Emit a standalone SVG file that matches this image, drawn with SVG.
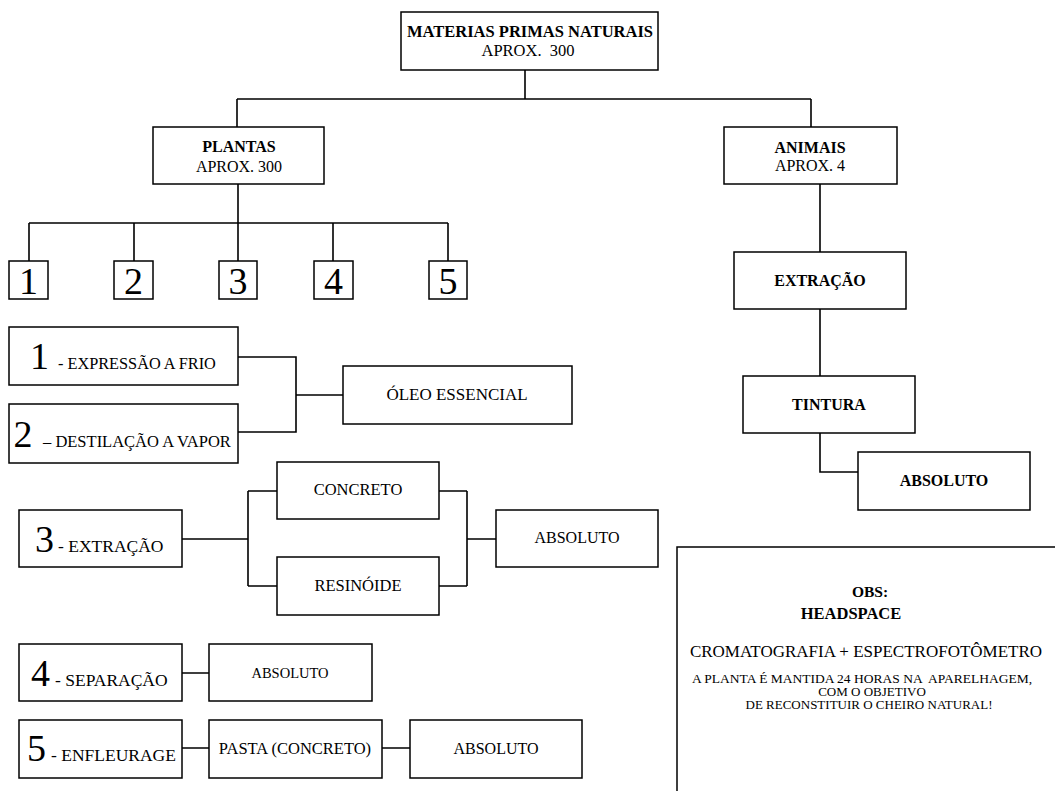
<svg xmlns="http://www.w3.org/2000/svg" width="1055" height="791" viewBox="0 0 1055 791">
<style>
  text { font-family: "Liberation Serif", "Times New Roman", serif; fill: #000; }
  .box { fill: #fff; stroke: #000; stroke-width: 1.5; }
  .ln { fill: none; stroke: #000; stroke-width: 1.6; }
  .b { font-weight: bold; }
  .c { text-anchor: middle; }
  .num { font-size: 38px; text-anchor: middle; }
  .note { font-size: 13px; text-anchor: middle; }
</style>
<rect width="1055" height="791" fill="#fff"/>

<g id="connectors">
  <path class="ln" d="M525,70 V99 M237,99 H811 M237,99 V127 M811,99 V127"/>
  <path class="ln" d="M238,184 V223 M29,223 H448 M29,223 V261 M134,223 V261 M238,223 V261 M333,223 V261 M448,223 V261"/>
  <path class="ln" d="M820,184 V252 M820,309 V376 M820,433 V472 H858"/>
  <path class="ln" d="M238,357 H296 V432 H238 M296,395 H343"/>
  <path class="ln" d="M182,539 H248 M248,491 V586 M248,491 H277 M248,586 H277 M439,491 H467 M439,586 H467 M467,491 V586 M467,539 H496"/>
  <path class="ln" d="M182,673 H209 M182,748 H209 M382,748 H410"/>
</g>

<g id="materias">
  <rect class="box" x="401" y="12" width="257" height="58"/>
  <text class="b c" x="530" y="37" font-size="16.5">MATERIAS PRIMAS NATURAIS</text>
  <text class="c" x="528" y="56" font-size="16.5" xml:space="preserve">APROX.  300</text>
</g>

<g id="plantas">
  <rect class="box" x="153" y="127" width="171" height="57"/>
  <text class="b c" x="239" y="152" font-size="16">PLANTAS</text>
  <text class="c" x="239" y="172" font-size="16">APROX. 300</text>
</g>

<g id="animais">
  <rect class="box" x="724" y="127" width="173" height="57"/>
  <text class="b c" x="810" y="153" font-size="16">ANIMAIS</text>
  <text class="c" x="810" y="171" font-size="16">APROX. 4</text>
</g>

<g id="n1"><rect class="box" x="9" y="261" width="39" height="38"/><text class="num" x="28.5" y="293.5">1</text></g>
<g id="n2"><rect class="box" x="114" y="261" width="39" height="38"/><text class="num" x="133.5" y="293.5">2</text></g>
<g id="n3"><rect class="box" x="219" y="261" width="38" height="38"/><text class="num" x="238" y="293.5">3</text></g>
<g id="n4"><rect class="box" x="314" y="261" width="39" height="38"/><text class="num" x="333.5" y="293.5">4</text></g>
<g id="n5"><rect class="box" x="429" y="261" width="38" height="38"/><text class="num" x="448" y="293.5">5</text></g>

<g id="extracao-animal">
  <rect class="box" x="734" y="252" width="172" height="57"/>
  <text class="b c" x="820" y="286" font-size="16">EXTRAÇÃO</text>
</g>
<g id="tintura">
  <rect class="box" x="743" y="376" width="172" height="57"/>
  <text class="b c" x="829" y="410" font-size="16">TINTURA</text>
</g>
<g id="absoluto-animal">
  <rect class="box" x="858" y="452" width="172" height="58"/>
  <text class="b c" x="944" y="486" font-size="16">ABSOLUTO</text>
</g>

<g id="p1">
  <rect class="box" x="9" y="327" width="229" height="58"/>
  <text class="num" x="39.5" y="369">1</text>
  <text x="58" y="369" font-size="16.3">- EXPRESSÃO A FRIO</text>
</g>
<g id="p2">
  <rect class="box" x="9" y="404" width="229" height="59"/>
  <text class="num" x="23" y="447">2</text>
  <text x="43" y="447" font-size="16.5">– DESTILAÇÃO A VAPOR</text>
</g>
<g id="oleo">
  <rect class="box" x="343" y="366" width="229" height="58"/>
  <text class="c" x="457" y="400" font-size="17">ÓLEO ESSENCIAL</text>
</g>

<g id="p3">
  <rect class="box" x="19" y="510" width="163" height="57"/>
  <text class="num" x="44.5" y="552">3</text>
  <text x="58" y="552" font-size="17.5">- EXTRAÇÃO</text>
</g>
<g id="concreto">
  <rect class="box" x="277" y="462" width="162" height="57"/>
  <text class="c" x="358" y="495" font-size="16.5">CONCRETO</text>
</g>
<g id="resinoide">
  <rect class="box" x="277" y="557" width="162" height="58"/>
  <text class="c" x="358" y="591" font-size="16.5">RESINÓIDE</text>
</g>
<g id="absoluto3">
  <rect class="box" x="496" y="510" width="162" height="57"/>
  <text class="c" x="577" y="543" font-size="16">ABSOLUTO</text>
</g>

<g id="p4">
  <rect class="box" x="19" y="644" width="163" height="57"/>
  <text class="num" x="40.5" y="686">4</text>
  <text x="55" y="686" font-size="17.5">- SEPARAÇÃO</text>
</g>
<g id="absoluto4">
  <rect class="box" x="209" y="644" width="163" height="57"/>
  <text class="c" x="290" y="678" font-size="14.5">ABSOLUTO</text>
</g>

<g id="p5">
  <rect class="box" x="19" y="720" width="163" height="58"/>
  <text class="num" x="36.5" y="761">5</text>
  <text x="51" y="761" font-size="17.5">- ENFLEURAGE</text>
</g>
<g id="pasta">
  <rect class="box" x="209" y="720" width="173" height="58"/>
  <text class="c" x="295" y="754" font-size="16.5">PASTA (CONCRETO)</text>
</g>
<g id="absoluto5">
  <rect class="box" x="410" y="720" width="172" height="58"/>
  <text class="c" x="496" y="754" font-size="16">ABSOLUTO</text>
</g>

<g id="obs">
  <rect class="box" x="677" y="547" width="420" height="300"/>
  <text class="b c" x="870" y="597" font-size="15.5">OBS:</text>
  <text class="b c" x="851" y="619" font-size="16.5">HEADSPACE</text>
  <text class="c" x="866" y="657" font-size="17">CROMATOGRAFIA + ESPECTROFOTÔMETRO</text>
  <text class="note" x="862" y="683" font-size="13.5" style="font-size:13.5px" xml:space="preserve">A PLANTA É MANTIDA 24 HORAS NA  APARELHAGEM,</text>
  <text class="note" x="872" y="696">COM O OBJETIVO</text>
  <text class="note" x="869" y="709">DE RECONSTITUIR O CHEIRO NATURAL!</text>
</g>
</svg>
